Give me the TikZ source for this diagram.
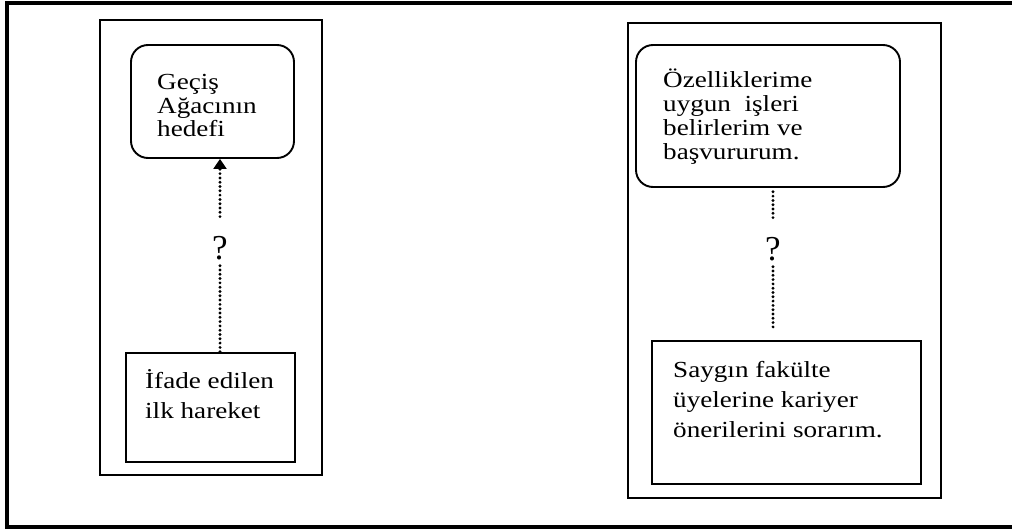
\documentclass[tikz,border=0pt]{standalone}
\usepackage{fontspec}
\setmainfont{Liberation Serif}[FakeStretch=1.18]
\newfontfamily\qfont{Liberation Serif}
\usetikzlibrary{decorations.markings}
% stacked lines with a fixed baseline distance; baseline of the box = first line
\newcommand\txtlines[2]{\vtop{\baselineskip=#1\lineskiplimit=-100pt\lineskip=0pt\relax #2}}
\begin{document}
\begin{tikzpicture}[x=1pt,y=-1pt,
  outer/.style={line width=3.2pt},
  panel/.style={line width=2pt},
  goalbox/.style={draw,line width=1.9pt,rounded corners=17pt,inner sep=0pt},
  actbox/.style={draw,line width=1.9pt,inner sep=0pt},
  boxtext/.style={anchor=base west,inner sep=0pt,font=\fontsize{23}{23}\selectfont},
  % round dots placed along a connector
  dots/.style={decoration={markings,
      mark=between positions 0 and 1 step 4.3pt with {\fill (0,0) circle (1.6pt);}},
    postaction={decorate}},
  % the same, ending in a filled triangular head
  dotsarrow/.style={decoration={markings,
      mark=between positions 0 and -10pt step 4.3pt with {\fill (0,0) circle (1.6pt);},
      mark=at position 1 with {\fill (0pt,0pt) -- (-10pt,6.8pt) -- (-10pt,-6.8pt) -- cycle;}},
    postaction={decorate}},
  qmark/.style={anchor=base,inner sep=0pt,font=\qfont\fontsize{35}{35}\selectfont}]
\clip (0,0) rectangle (1012,532);
\useasboundingbox (0,0) rectangle (1012,532);
\fill[white] (0,0) rectangle (1012,532);

% outer frame and the two panels
\draw[outer] (7,3) rectangle (1020,527);
\draw[panel] (100,20) rectangle (322,475);
\draw[panel] (628,23) rectangle (941,498);

% left panel
\node[goalbox,minimum width=163pt,minimum height=113pt] (lg) at (212.5,101.5) {};
\node[boxtext] (lgt) at (157,90) {\txtlines{23.5pt}{\hbox{Geçiş}\hbox{Ağacının}\hbox{hedefi}}};
\node[actbox,minimum width=169pt,minimum height=109pt] (la) at (210.5,407.5) {};
\node[boxtext] (lat) at (145,388) {\txtlines{30pt}{\hbox{İfade edilen}\hbox{ilk hareket}}};
\node[qmark] (q1) at (220,259) {?};
\path[dotsarrow] ([yshift=19pt]q1.north) -- (q1.north |- lg.south);
\path[dots] ([yshift=-6pt]q1.south) -- (q1.south |- la.north);

% right panel
\node[goalbox,minimum width=264pt,minimum height=142pt] (rg) at (768,116) {};
\node[boxtext] (rgt) at (663,88) {\txtlines{24pt}{\hbox{Özelliklerime}\hbox{uygun\ \ işleri}\hbox{belirlerim ve}\hbox{başvururum.}}};
\node[actbox,minimum width=269pt,minimum height=143pt] (ra) at (786.5,412.5) {};
\node[boxtext] (rat) at (673,377) {\txtlines{30pt}{\hbox{Saygın fakülte}\hbox{üyelerine kariyer}\hbox{önerilerini sorarım.}}};
\node[qmark] (q2) at (773,260) {?};
\path[dots] ([yshift=19pt]q2.north) -- (q2.north |- rg.south);
\path[dots] ([yshift=-6pt]q2.south) -- ([yshift=11pt]q2.south |- ra.north);
\end{tikzpicture}
\end{document}
